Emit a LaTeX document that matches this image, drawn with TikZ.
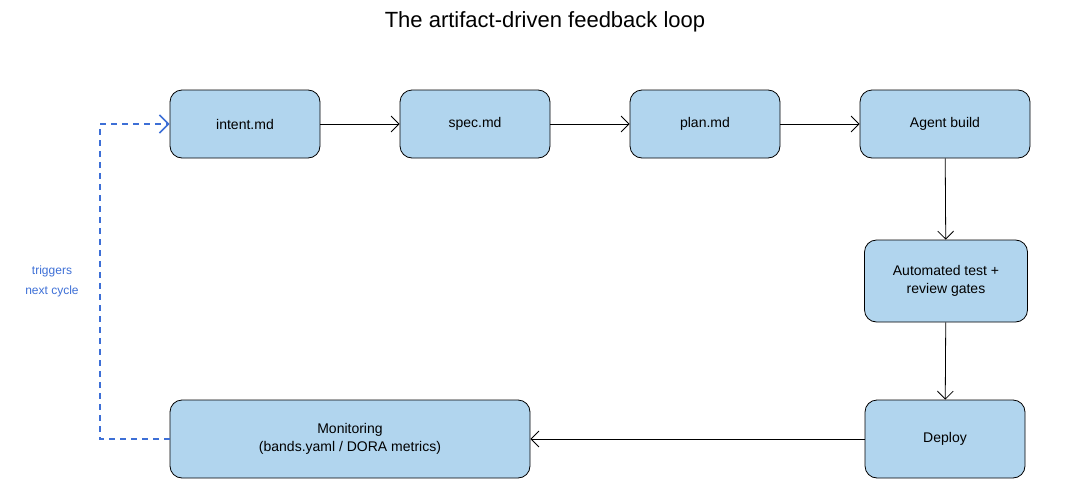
\documentclass[tikz,border=0pt]{standalone}
\usepackage{fontspec}
\setmainfont{Liberation Sans}
\usetikzlibrary{arrows.meta}
\definecolor{boxfill}{HTML}{B1D5EE}
\definecolor{loopblue}{HTML}{3D6FD6}
\begin{document}
\begin{tikzpicture}[x=1pt,y=-1pt,
  box/.style={draw=black,fill=boxfill,rounded corners=12pt,line width=0.8pt,align=center,inner sep=0pt,font=\fontsize{14}{18}\selectfont},
  flow/.style={draw=black,line width=0.8pt,-{Straight Barb[length=8pt,width=16pt]}},
  back/.style={draw=loopblue,line width=1.6pt,dash pattern=on 6pt off 5pt,-{Straight Barb[length=9pt,width=18pt]}}]
\useasboundingbox (0,0) rectangle (1085,490);
\node[font=\fontsize{22}{26}\selectfont] (title) at (545,22) {The artifact-driven feedback loop};
\node[box,minimum width=150pt,minimum height=68pt] (intent) at (245,124) {intent.md};
\node[box,minimum width=150pt,minimum height=68pt] (spec) at (475,124) {spec.md};
\node[box,minimum width=150pt,minimum height=68pt] (plan) at (705,124) {plan.md};
\node[box,minimum width=170pt,minimum height=68pt] (agent) at (945,124) {Agent build};
\node[box,minimum width=163pt,minimum height=82pt] (test) at (946,281) {Automated test +\\review gates};
\node[box,minimum width=160pt,minimum height=78pt] (deploy) at (945,439) {Deploy};
\node[box,minimum width=360pt,minimum height=78pt] (mon) at (350,439) {Monitoring\\(bands.yaml / DORA metrics)};
\draw[flow] (intent) -- (spec);
\draw[flow] (spec) -- (plan);
\draw[flow] (plan) -- (agent);
\draw[flow] (agent) -- (test);
\draw[flow] (test) -- (deploy);
\draw[flow] (deploy) -- (mon);
\coordinate (c1) at (100,439);
\coordinate (c2) at (100,124);
\draw[back] (mon.west) -- (c1) -- (c2) -- (intent.west);
\node[text=loopblue,align=center,font=\fontsize{12}{20}\selectfont] (lbl) at (52,281) {triggers\\next cycle};
\end{tikzpicture}
\end{document}
